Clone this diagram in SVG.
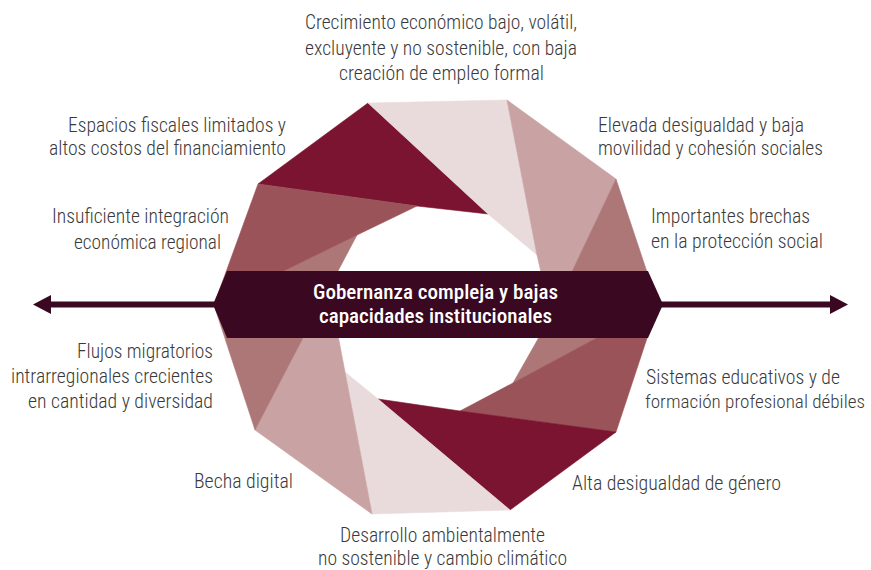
<svg xmlns="http://www.w3.org/2000/svg" width="871" height="570" viewBox="0 0 871 570">
  <style>
    .lbl { font-family: "Liberation Sans Narrow", "Roboto Condensed", Roboto, "Liberation Sans", sans-serif; font-size: 20px; fill: #3a3a3a; font-weight: 300; }
    .ban { font-family: "Liberation Sans Narrow", "Roboto Condensed", Roboto, "Liberation Sans", sans-serif; font-size: 20px; fill: #ffffff; font-weight: 500; }
    .c-dark { fill: #7a1430; stroke: #7a1430; }
    .c-light { fill: #e9dbdb; stroke: #e9dbdb; }
    .c-pink { fill: #c9a3a3; stroke: #c9a3a3; }
    .c-mauve { fill: #ad7777; stroke: #ad7777; }
    .c-brown { fill: #9a5359; stroke: #9a5359; }
    .blade { stroke-width: 0.6; stroke-linejoin: round; }
    .shaft { stroke: #3a0820; stroke-width: 6; fill: none; }
  </style>
  <defs>
    <marker id="head" viewBox="0 0 18 19" markerWidth="18" markerHeight="19" markerUnits="userSpaceOnUse" refX="6" refY="9.5" orient="auto">
      <path d="M0,0 L18,9.5 L0,19 Z" fill="#3a0820"/>
    </marker>
  </defs>

  <rect width="871" height="570" fill="#ffffff"/>

  <!-- horizontal double arrow behind the central banner -->
  <g id="connectors">
    <line class="shaft" x1="230" y1="304.5" x2="45" y2="304.5" marker-end="url(#head)"/>
    <line class="shaft" x1="640" y1="304.5" x2="836" y2="304.5" marker-end="url(#head)"/>
  </g>

  <!-- aperture ring: ten blades, each from an outer edge to an inner tip -->
  <g id="ring">
    <polygon id="blade-top-left" class="blade c-dark" points="258,184 368,103 488,214 417,206"/>
    <polygon id="blade-top" class="blade c-light" points="368,103 507,100 537,255 488,214"/>
    <polygon id="blade-top-right" class="blade c-pink" points="507,100 616,179 551,316 537,255"/>
    <polygon id="blade-right-upper" class="blade c-mauve" points="616,179 658,305 513,383 551,316"/>
    <polygon id="blade-right-lower" class="blade c-brown" points="658,305 616,432 460,411 513,383"/>
    <polygon id="blade-bottom-right" class="blade c-dark" points="616,432 510,510 378,399 460,411"/>
    <polygon id="blade-bottom" class="blade c-light" points="510,510 372,514 345,372 378,399"/>
    <polygon id="blade-bottom-left" class="blade c-pink" points="372,514 255,430 329,288 345,372"/>
    <polygon id="blade-left-lower" class="blade c-mauve" points="255,430 214,305 357,235 329,288"/>
    <polygon id="blade-left-upper" class="blade c-brown" points="214,305 258,184 417,206 357,235"/>
  </g>

  <!-- central banner -->
  <g id="governance">
    <polygon points="227,271 648,271 663,304.5 648,338 227,338 213,304.5" fill="#3a0820"/>
    <text class="ban" x="313" y="299" textLength="245" lengthAdjust="spacingAndGlyphs">Gobernanza compleja y bajas</text>
    <text class="ban" x="319" y="323" textLength="233" lengthAdjust="spacingAndGlyphs">capacidades institucionales</text>
  </g>

  <g id="growth">
    <text class="lbl" x="305" y="29" textLength="272" lengthAdjust="spacingAndGlyphs">Crecimiento económico bajo, volátil,</text>
    <text class="lbl" x="305" y="55" textLength="272" lengthAdjust="spacingAndGlyphs">excluyente y no sostenible, con baja</text>
    <text class="lbl" x="339" y="80" textLength="205" lengthAdjust="spacingAndGlyphs">creación de empleo formal</text>
  </g>

  <g id="fiscal">
    <text class="lbl" x="68" y="132" textLength="218" lengthAdjust="spacingAndGlyphs">Espacios fiscales limitados y</text>
    <text class="lbl" x="49" y="155" textLength="237" lengthAdjust="spacingAndGlyphs">altos costos del financiamiento</text>
  </g>

  <g id="integration">
    <text class="lbl" x="52" y="223" textLength="177" lengthAdjust="spacingAndGlyphs">Insuficiente integración</text>
    <text class="lbl" x="74" y="249" textLength="147" lengthAdjust="spacingAndGlyphs">económica regional</text>
  </g>

  <g id="inequality">
    <text class="lbl" x="598" y="132" textLength="206" lengthAdjust="spacingAndGlyphs">Elevada desigualdad y baja</text>
    <text class="lbl" x="598" y="155" textLength="225" lengthAdjust="spacingAndGlyphs">movilidad y cohesión sociales</text>
  </g>

  <g id="protection">
    <text class="lbl" x="651" y="223" textLength="159" lengthAdjust="spacingAndGlyphs">Importantes brechas</text>
    <text class="lbl" x="651" y="248" textLength="172" lengthAdjust="spacingAndGlyphs">en la protección social</text>
  </g>

  <g id="migration">
    <text class="lbl" x="77" y="358" textLength="136" lengthAdjust="spacingAndGlyphs">Flujos migratorios</text>
    <text class="lbl" x="11" y="383" textLength="202" lengthAdjust="spacingAndGlyphs">intrarregionales crecientes</text>
    <text class="lbl" x="28" y="408" textLength="185" lengthAdjust="spacingAndGlyphs">en cantidad y diversidad</text>
  </g>

  <g id="digital">
    <text class="lbl" x="194" y="488" textLength="99" lengthAdjust="spacingAndGlyphs">Becha digital</text>
  </g>

  <g id="education">
    <text class="lbl" x="646" y="384" textLength="194" lengthAdjust="spacingAndGlyphs">Sistemas educativos y de</text>
    <text class="lbl" x="645" y="408" style="font-size:19px" textLength="220" lengthAdjust="spacingAndGlyphs">formación profesional débiles</text>
  </g>

  <g id="gender">
    <text class="lbl" x="572" y="490" textLength="209" lengthAdjust="spacingAndGlyphs">Alta desigualdad de género</text>
  </g>

  <g id="environment">
    <text class="lbl" x="340" y="542" textLength="205" lengthAdjust="spacingAndGlyphs">Desarrollo ambientalmente</text>
    <text class="lbl" x="318" y="565" textLength="249" lengthAdjust="spacingAndGlyphs">no sostenible y cambio climático</text>
  </g>
</svg>
